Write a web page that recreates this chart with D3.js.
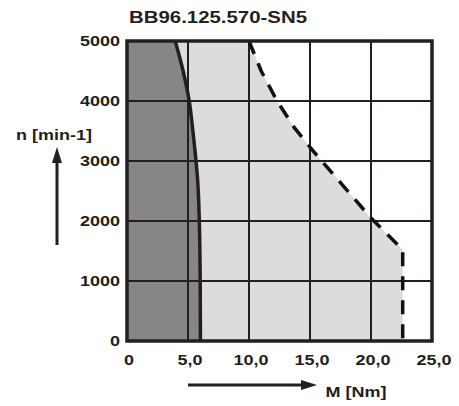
<!DOCTYPE html>
<html>
<head>
<meta charset="utf-8">
<script src="https://cdn.jsdelivr.net/npm/d3@7"></script>
<style>
  body { margin: 0; background: #fff; }
  text { font-family: "Liberation Sans", Arial, sans-serif; font-weight: bold; fill: #231f20; }
</style>
</head>
<body>
<div id="chart"></div>
<script>
// axis ticks
var xTicks = [0, 5, 10, 15, 20, 25];
var xTickLabels = ["0", "5,0", "10,0", "15,0", "20,0", "25,0"];
var yTicks = [0, 1000, 2000, 3000, 4000, 5000];
var yTickLabels = ["0", "1000", "2000", "3000", "4000", "5000"];

// continuous torque curve (solid)
var contM = [3.95, 4.6, 5.1, 5.4, 5.57, 5.79, 5.92, 6.0, 6.02];
var contN = [5000, 4500, 4000, 3500, 3180, 2680, 2050, 1000, 0];

// peak torque curve (dashed)
var peakM = [10, 11, 12.3, 13.7, 15.2, 17.6, 20, 22.6, 22.6];
var peakN = [5000, 4500, 4000, 3560, 3180, 2615, 2050, 1520, 0];

var width = 459, height = 406;
var sx = 1.2; // labels are horizontally stretched

var x = d3.scaleLinear().domain([0, 25]).range([127, 432]);
var y = d3.scaleLinear().domain([0, 5000]).range([341, 41]);

var svg = d3.select("#chart").append("svg")
    .attr("width", width)
    .attr("height", height);

function label(txt, px, py, size, anchor) {
    svg.append("text")
        .attr("transform", "translate(" + px + "," + py + ") scale(" + sx + ",1)")
        .attr("text-anchor", anchor || "middle")
        .style("font-size", size + "px")
        .text(txt);
}

var contPts = contM.map(function(m, i) { return [m, contN[i]]; });
var peakPts = peakM.map(function(m, i) { return [m, peakN[i]]; });

// light area: 0 .. peak curve
var lightPts = [[0, 0], [0, 5000]].concat(peakPts);
svg.append("path")
    .attr("d", d3.line().x(d => x(d[0])).y(d => y(d[1]))(lightPts) + "Z")
    .style("fill", "#dcdcdc");

// dark area: 0 .. continuous curve
var darkLine = d3.line().x(d => x(d[0])).y(d => y(d[1])).curve(d3.curveMonotoneY);
svg.append("path")
    .attr("d", "M" + x(0) + "," + y(0) + "L" + x(0) + "," + y(5000) + darkLine(contPts).replace(/^M/, "L") + "Z")
    .style("fill", "#868686");

// grid
svg.selectAll(".gx")
    .data(xTicks.slice(1, -1))
    .enter().append("line")
    .attr("x1", d => x(d)).attr("x2", d => x(d))
    .attr("y1", y(0)).attr("y2", y(5000))
    .style("stroke", "#231f20").style("stroke-width", 2);
svg.selectAll(".gy")
    .data(yTicks.slice(1, -1))
    .enter().append("line")
    .attr("x1", x(0)).attr("x2", x(25))
    .attr("y1", d => y(d)).attr("y2", d => y(d))
    .style("stroke", "#231f20").style("stroke-width", 2);

// curves
svg.append("path")
    .attr("d", darkLine(contPts))
    .style("fill", "none").style("stroke", "#231f20").style("stroke-width", 3.5);
svg.append("path")
    .attr("d", d3.line().x(d => x(d[0])).y(d => y(d[1]))(peakPts))
    .style("fill", "none").style("stroke", "#111").style("stroke-width", 3.5)
    .style("stroke-dasharray", "14,10");

// border
svg.append("rect")
    .attr("x", x(0)).attr("y", y(5000))
    .attr("width", x(25) - x(0)).attr("height", y(0) - y(5000))
    .style("fill", "none").style("stroke", "#231f20").style("stroke-width", 3.5);

// tick labels
yTicks.forEach(function(t, i) {
    label(yTickLabels[i], 120, y(t) + 5, 15, "end");
});
xTicks.forEach(function(t, i) {
    label(xTickLabels[i], x(t) + 2, 365, 15, "middle");
});

// title and axis titles
label("BB96.125.570-SN5", 218, 23, 17, "middle");
label("n [min-1]", 54, 140, 15, "middle");
label("M [Nm]", 356, 397, 15, "middle");

// arrows
svg.append("line").attr("x1", 57).attr("y1", 245).attr("x2", 57).attr("y2", 160)
    .style("stroke", "#231f20").style("stroke-width", 3);
svg.append("path").attr("d", "M57,147L52,163L62,163Z").style("fill", "#231f20");
svg.append("line").attr("x1", 188).attr("y1", 385).attr("x2", 305).attr("y2", 385)
    .style("stroke", "#231f20").style("stroke-width", 3);
svg.append("path").attr("d", "M317,385L301,380L301,390Z").style("fill", "#231f20");
</script>
</body>
</html>
